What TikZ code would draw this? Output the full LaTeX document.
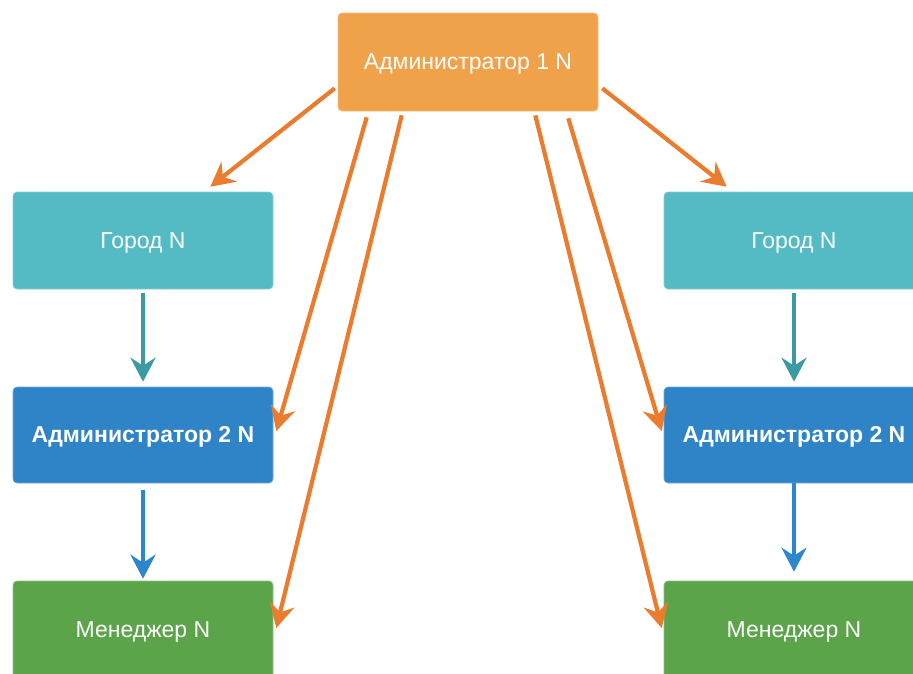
\documentclass[tikz,border=0pt]{standalone}
\usepackage{fontspec}
\setmainfont{Liberation Sans}
\usetikzlibrary{arrows.meta}
\definecolor{orbox}{HTML}{F0A24A}
\definecolor{orarr}{HTML}{EB7B2D}
\definecolor{tlbox}{HTML}{54BAC3}
\definecolor{tlarr}{HTML}{3C9AA5}
\definecolor{blbox}{HTML}{2F84C7}
\definecolor{blarr}{HTML}{2D87CC}
\definecolor{grbox}{HTML}{5CA449}
\tikzset{
  boxbase/.style={rectangle, rounded corners=4pt, minimum width=260pt, inner sep=0pt, text=white, text height=15pt, text depth=0pt, font=\fontsize{23}{26}\selectfont},
  orbx/.style={boxbase, fill=orbox, draw=orbox!70!white, line width=0.6pt, minimum height=98pt},
  tlbx/.style={boxbase, fill=tlbox, draw=tlbox!70!white, line width=0.6pt, minimum height=97pt},
  blbx/.style={boxbase, fill=blbox, draw=blbox!70!white, line width=0.6pt, minimum height=96pt, font=\fontsize{23}{26}\selectfont\bfseries},
  grbx/.style={boxbase, fill=grbox, draw=grbox!70!white, line width=0.6pt, minimum height=97pt},
  conn/.style={line width=4.2pt, -{Stealth[length=24pt,width=25pt,inset=8pt]}},
  orconn/.style={conn, draw=orarr},
  tlconn/.style={conn, draw=tlarr},
  blconn/.style={conn, draw=blarr},
}
\begin{document}
\begin{tikzpicture}[x=1pt,y=-1pt]
\useasboundingbox (0,0) rectangle (913,673);
\clip (0,0) rectangle (913,673);
\fill[white] (0,0) rectangle (913,673);
\node[orbx] (a1) at (468,62) {Администратор 1 N};
\node[tlbx] (g1) at (143,240.5) {Город N};
\node[blbx] (b1) at (143,435) {Администратор 2 N};
\node[grbx] (m1) at (143,629.5) {Менеджер N};
\node[tlbx] (g2) at (794,240.5) {Город N};
\node[blbx] (b2) at (794,435) {Администратор 2 N};
\node[grbx] (m2) at (794,629.5) {Менеджер N};
% orange connectors
\draw[orconn] ([xshift=-3pt,yshift=23pt]a1.south west) -- ([xshift=-63pt,yshift=5pt]g1.north east);
\draw[orconn] ([xshift=29pt,yshift=-6pt]a1.south west) -- ([xshift=3pt,yshift=4pt]b1.east);
\draw[orconn] ([xshift=64pt,yshift=-4pt]a1.south west) -- ([xshift=3pt,yshift=1.5pt]m1.east);
\draw[orconn] ([xshift=4pt,yshift=23pt]a1.south east) -- ([xshift=63pt,yshift=5pt]g2.north west);
\draw[orconn] ([xshift=-30pt,yshift=-7pt]a1.south east) -- ([xshift=-2pt,yshift=4pt]b2.west);
\draw[orconn] ([xshift=-63pt,yshift=-4pt]a1.south east) -- ([xshift=-2pt,yshift=1.5pt]m2.west);
% vertical connectors
\draw[tlconn, shorten <=4pt, shorten >=5pt] (g1.south) -- (b1.north);
\draw[blconn, shorten <=7pt, shorten >=2pt] (b1.south) -- (m1.north);
\draw[tlconn, shorten <=4pt, shorten >=5pt] (g2.south) -- (b2.north);
\draw[blconn, shorten <=0pt, shorten >=9pt] (b2.south) -- (m2.north);
\end{tikzpicture}
\end{document}
